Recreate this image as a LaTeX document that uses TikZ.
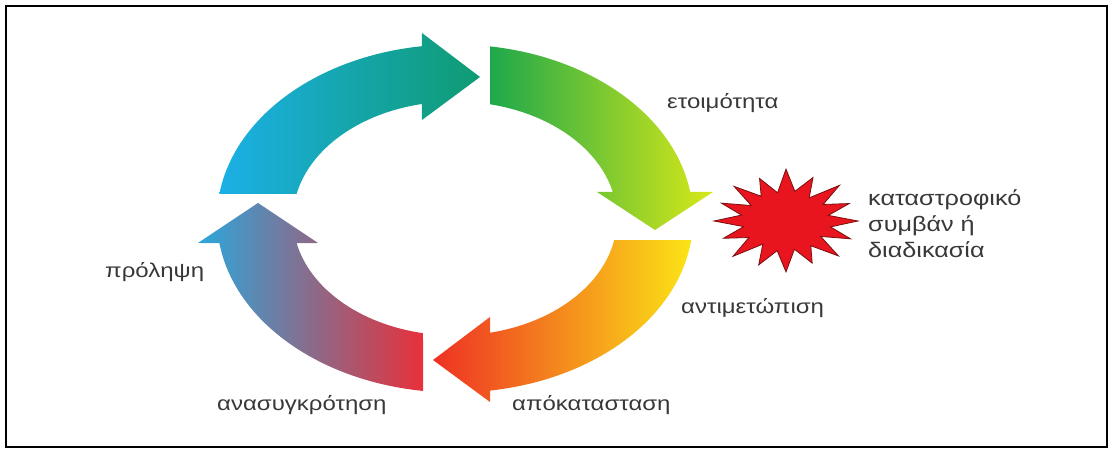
\documentclass[tikz,border=0pt]{standalone}
\usepackage{fontspec}
\setmainfont{Liberation Sans}[FakeStretch=1.2]
\usepackage{tikz}
\usetikzlibrary{calc,positioning}

\definecolor{cyanA}{HTML}{1BB0E6}
\definecolor{tealA}{HTML}{0F9B72}
\definecolor{greenA}{HTML}{1EA84B}
\definecolor{limeA}{HTML}{D8E818}
\definecolor{yellowA}{HTML}{FBE416}
\definecolor{orangeA}{HTML}{F7941D}
\definecolor{redA}{HTML}{EE3124}
\definecolor{slateA}{HTML}{6F8496}
\definecolor{blueA}{HTML}{2BA7DC}
\definecolor{roseA}{HTML}{E8303A}
\definecolor{burstred}{HTML}{E8141E}
\definecolor{burstedge}{HTML}{7A1010}
\definecolor{labelgray}{HTML}{383838}

\begin{document}
\begin{tikzpicture}[x=1pt, y=1pt,
  phase/.style={text=labelgray, font=\fontsize{20}{26}\selectfont, inner sep=0pt, anchor=west},
  event/.style={phase, font=\fontsize{21}{26}\selectfont, align=left},
  ringarrow/.style={shading=axis, shading angle=90}]

\useasboundingbox (0,0) rectangle (1114,450);
\draw[line width=2pt] (6,3) rectangle (1107,444);

\coordinate (c) at (455,231.5);
\coordinate (burst) at (786,229);

%Arrows
\shade[ringarrow, left color=cyanA, right color=tealA]
  ($(c)+(171.9:238 and 174)$) arc[start angle=171.9, end angle=98, x radius=238, y radius=174]
  -- (422,417) -- (480,373) -- (422,330)
  -- ($(c)+(101.8:162 and 117)$) arc[start angle=101.8, end angle=167.9, x radius=162, y radius=117] -- cycle;

\shade[ringarrow, left color=greenA, right color=limeA]
  ($(c)+(81.5:238 and 174)$) arc[start angle=81.5, end angle=8.8, x radius=238, y radius=174]
  -- (713,258) -- (655,220) -- (597,258)
  -- ($(c)+(13.1:162 and 117)$) arc[start angle=13.1, end angle=77.5, x radius=162, y radius=117] -- cycle;

\shade[ringarrow, left color=redA, middle color=orangeA, right color=yellowA]
  ($(c)+(-7.1:238 and 174)$) arc[start angle=-7.1, end angle=-81.5, x radius=238, y radius=174]
  -- (490,48) -- (433,90) -- (490,133)
  -- ($(c)+(-77.5:162 and 117)$) arc[start angle=-77.5, end angle=-10.6, x radius=162, y radius=117] -- cycle;

\shade[ringarrow, left color=blueA, middle color=slateA, right color=roseA]
  ($(c)+(262.3:238 and 174)$) arc[start angle=262.3, end angle=188.1, x radius=238, y radius=174]
  -- (198,207) -- (258,247) -- (318,207)
  -- ($(c)+(192.1:162 and 117)$) arc[start angle=192.1, end angle=258.6, x radius=162, y radius=117] -- cycle;

%Burst
\filldraw[fill=burstred, draw=burstedge, line width=0.8pt]
  ($(burst)+(0:72 and 48)$)
  \foreach \a/\r in {11.25/0.6, 22.5/0.95, 33.75/0.62, 45/1.05, 56.25/0.58, 67.5/0.98, 78.75/0.63,
                     90/1.08, 101.25/0.6, 112.5/0.96, 123.75/0.62, 135/1.02, 146.25/0.58, 157.5/0.97,
                     168.75/0.63, 180/1.0, 191.25/0.6, 202.5/0.94, 213.75/0.62, 225/1.04, 236.25/0.58,
                     247.5/0.99, 258.75/0.63, 270/1.06, 281.25/0.6, 292.5/0.95, 303.75/0.62, 315/1.03,
                     326.25/0.58, 337.5/0.97, 348.75/0.63}
  { -- ($(burst)+(\a:{72*\r} and {48*\r})$) } -- cycle;

%Labels
\node[phase] (readiness)   at (667,347) {ετοιμότητα};
\node[event] (disaster)    at (868,226) {καταστροφικό\\συμβάν ή\\διαδικασία};
\node[phase] (response)    at (681,142) {αντιμετώπιση};
\node[phase] (recovery)    at (512,45)  {απόκατασταση};
\node[phase] (rebuild)     at (217,45)  {ανασυγκρότηση};
\node[phase] (prevention)  at (105,178) {πρόληψη};

\end{tikzpicture}
\end{document}
